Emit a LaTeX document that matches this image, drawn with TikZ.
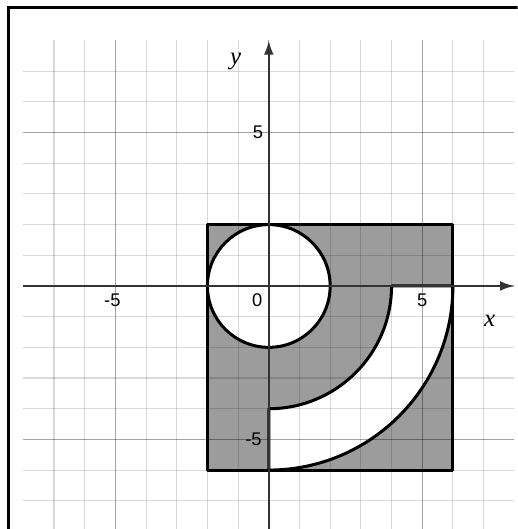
\documentclass[tikz,border=0pt]{standalone}
\usepackage{fontspec}
\setmainfont{Liberation Sans}
\newfontfamily\axisfont{Liberation Serif}
\usetikzlibrary{arrows.meta}
\definecolor{fillgray}{gray}{0.61}
\definecolor{axiscol}{gray}{0.2}
\tikzset{
  minorgrid/.style={draw=black,draw opacity=0.15,line width=1pt},
  majorgrid/.style={draw=black,draw opacity=0.36,line width=1pt},
  axisline/.style={draw=axiscol,line width=2pt,-{Latex[length=4.6mm,width=3.2mm]}},
  outline/.style={draw=black,line width=2.8pt,line join=round},
  ticklab/.style={font=\fontsize{17}{19}\selectfont,text=black,inner sep=0pt},
  axlab/.style={font=\axisfont\itshape\fontsize{23}{25}\selectfont,inner sep=0pt},
  frameline/.style={draw=black,line width=3pt}
}
\begin{document}
\begin{tikzpicture}
\useasboundingbox (-8.76,-7.92) rectangle (8.11,9.32);
\clip (-8.76,-7.92) rectangle (8.11,9.32);
% frame
\draw[frameline] (-8.49,-9) -- (-8.49,9.07) -- (9,9.07);
% fills
\fill[fillgray] (-2,-6) rectangle (6,2);
\fill[white] (0,0) circle (2);
\fill[white] (0,-4) -- (0,-6) arc[start angle=-90,end angle=0,radius=6] -- (4,0) arc[start angle=0,end angle=-90,radius=4] -- cycle;
% grid
\foreach \i in {-7,...,7} {
  \pgfmathtruncatemacro{\m}{mod(abs(\i),5)}
  \ifnum\m=0
    \draw[majorgrid] (\i,-8) -- (\i,8);
    \draw[majorgrid] (-8,\i) -- (8,\i);
  \else
    \draw[minorgrid] (\i,-8) -- (\i,8);
    \draw[minorgrid] (-8,\i) -- (8,\i);
  \fi
}
% outlines
\draw[outline] (-2,-6) rectangle (6,2);
\draw[outline] (0,0) circle (2);
\draw[outline] (0,-4) -- (0,-6) arc[start angle=-90,end angle=0,radius=6] -- (4,0) arc[start angle=0,end angle=-90,radius=4] -- cycle;
% axes
\coordinate (xs) at (-8,0);
\coordinate (xe) at (8,0);
\coordinate (ys) at (0,-8);
\coordinate (ye) at (0,8);
\draw[axisline] (xs) -- (xe);
\draw[axisline] (ys) -- (ye);
% labels
\node[axlab] (xl) at (7.2,-1.12) {x};
\node[axlab] (yl) at (-1.08,7.3) {y};
\node[ticklab] (t0) at (-0.38,-0.47) {0};
\node[ticklab] (tx5) at (5.0,-0.47) {5};
\node[ticklab] (txm5) at (-5.1,-0.47) {-5};
\node[ticklab] (ty5) at (-0.35,5.0) {5};
\node[ticklab] (tym5) at (-0.5,-5.0) {-5};
\end{tikzpicture}
\end{document}
